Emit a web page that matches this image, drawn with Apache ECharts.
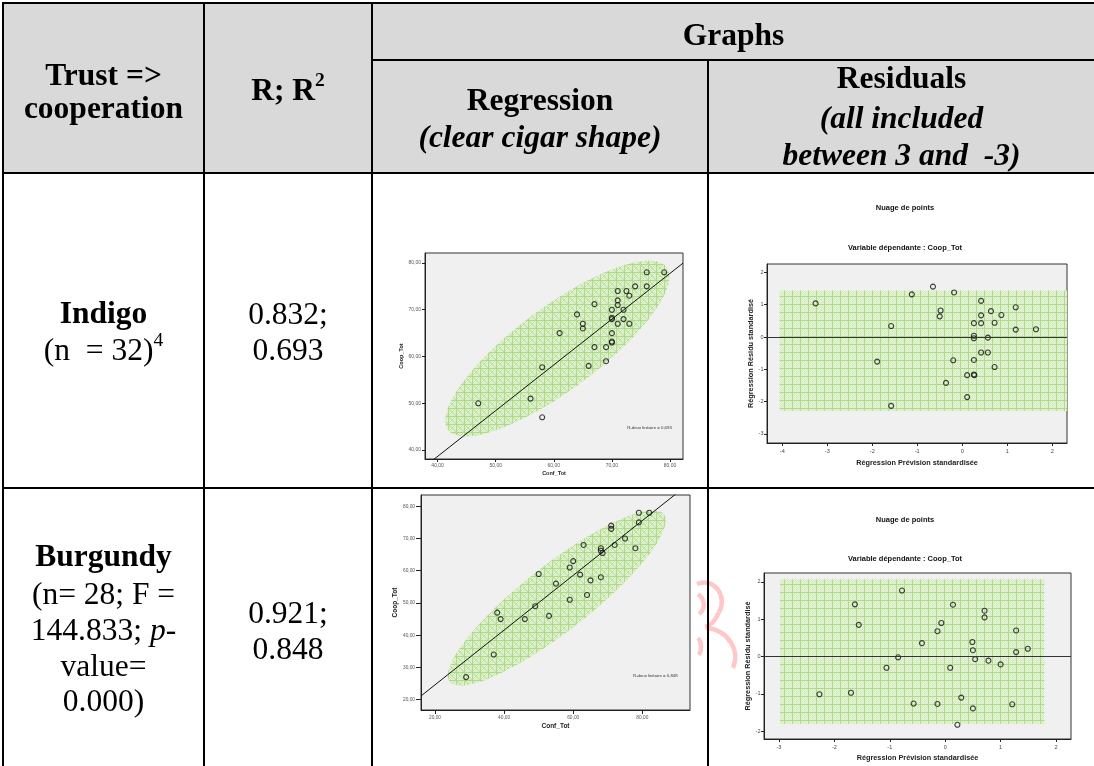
<!DOCTYPE html>
<html><head><meta charset="utf-8">
<script src="https://cdn.jsdelivr.net/npm/echarts@6/dist/echarts.min.js"></script>
<style>
html,body{margin:0;padding:0;background:#fff;width:1094px;height:766px;overflow:hidden;}
#chart{position:absolute;left:0;top:0;width:1094px;height:766px;z-index:0;}
#table{position:absolute;left:0;top:0;width:1094px;height:766px;z-index:1;pointer-events:none;font-family:"Liberation Serif","Times New Roman",serif;color:#000;}
.bg{position:absolute;background:#d9d9d9;}
.ln{position:absolute;background:#000;}
.t{position:absolute;text-align:center;font-size:31.5px;line-height:36px;height:36px;white-space:pre;}
.b{font-weight:bold;}
.i{font-style:italic;}
sup{font-size:62%;line-height:0;vertical-align:0.72em;}
</style></head>
<body>
<div id="chart"></div>
<div id="table">
  <div class="bg" style="left:4px;top:4px;width:1090px;height:168px;"></div>
  <div class="ln" style="left:2px;top:2px;width:1092px;height:2px;"></div>
  <div class="ln" style="left:2px;top:2px;width:2px;height:764px;"></div>
  <div class="ln" style="left:203px;top:2px;width:2px;height:764px;"></div>
  <div class="ln" style="left:371px;top:2px;width:2px;height:764px;"></div>
  <div class="ln" style="left:707px;top:60px;width:2px;height:706px;"></div>
  <div class="ln" style="left:372px;top:59px;width:722px;height:2px;"></div>
  <div class="ln" style="left:2px;top:172px;width:1092px;height:2px;"></div>
  <div class="ln" style="left:2px;top:487px;width:1092px;height:2px;"></div>
  <div class="t b" style="left:373px;width:721px;top:17px;">Graphs</div>
  <div class="t b" style="left:4px;width:199px;top:57px;">Trust =&gt;</div>
  <div class="t b" style="left:4px;width:199px;top:90px;">cooperation</div>
  <div class="t b" style="left:205px;width:166px;top:72px;">R; R<sup>2</sup></div>
  <div class="t b" style="left:373px;width:334px;top:82px;">Regression</div>
  <div class="t b i" style="left:373px;width:334px;top:119px;">(clear cigar shape)</div>
  <div class="t b" style="left:709px;width:385px;top:60px;">Residuals</div>
  <div class="t b i" style="left:709px;width:385px;top:100px;">(all included</div>
  <div class="t b i" style="left:709px;width:385px;top:137px;">between 3 and  -3)</div>
  <div class="t b" style="left:4px;width:199px;top:295px;">Indigo</div>
  <div class="t" style="left:4px;width:199px;top:332px;">(n  = 32)<sup>4</sup></div>
  <div class="t" style="left:205px;width:166px;top:296px;">0.832;</div>
  <div class="t" style="left:205px;width:166px;top:332px;">0.693</div>
  <div class="t b" style="left:4px;width:199px;top:538px;">Burgundy</div>
  <div class="t" style="left:4px;width:199px;top:576px;">(n= 28; F =</div>
  <div class="t" style="left:4px;width:199px;top:612px;">144.833; <span class="i">p</span>-</div>
  <div class="t" style="left:4px;width:199px;top:648px;">value=</div>
  <div class="t" style="left:4px;width:199px;top:683px;">0.000)</div>
  <div class="t" style="left:205px;width:166px;top:595px;">0.921;</div>
  <div class="t" style="left:205px;width:166px;top:631px;">0.848</div>
</div>
<script>
// ---------- DATA ----------
const indigoConf = [47,56,58,58,61,64,65,65,66,67,67,69,69,70,70,70,70,70,70,71,71,71,71,72,72,72.5,73,73,74,76,76,79];
const indigoCoop = [50,51,47,57.7,65,69,67,66,58,71.2,62,62,59,70,68.3,68,65,63,63.2,74,72,71,67,70,68,74,73,67,75,78,75,78];
const indigoPred = [-3.26,-1.12,-0.65,-0.18,0.42,-0.48,-0.50,-1.58,0.64,0.87,1.19,0.42,0.26,0.42,0.72,1.19,1.64,0.26,0.26,0.57,0.42,0.57,-1.89,-0.20,0.26,0.72,0.11,0.26,0.27,-0.36,0.11,-1.58];
const indigoResid = [1.04,1.32,1.56,1.38,1.12,0.82,0.64,0.34,0.80,0.68,0.92,0.67,0.43,0.43,0.44,0.23,0.24,0.04,-0.04,-0.02,-0.48,-0.48,-0.76,-0.72,-0.71,-0.93,-1.18,-1.16,-1.18,-1.42,-1.86,-2.13];
const burgConf = [29,37,38,39,46,49,50,53,55,59,59,60,62,63,64,65,68,68,68.5,68,71,71,72,75,78,79,79,82];
const burgCoop = [27,34,47,45,45,49,59,46,56,61,51,63,58.8,68,52.5,57,67,66.2,65.5,58,74,73,68,70,67,75,78,78];
const burgPred = [-2.27,-1.70,-1.63,-1.56,-1.06,-0.85,-0.78,-0.57,-0.42,-0.14,-0.14,-0.07,0.09,0.14,0.22,0.29,0.49,0.50,0.50,0.54,0.71,0.71,0.78,1.00,1.21,1.28,1.28,1.49];
const burgResid = [-1.01,-0.97,1.40,0.85,-0.30,-0.02,1.77,-1.26,0.36,-1.27,0.68,0.90,-0.30,1.39,-1.83,-1.10,0.39,0.17,-1.39,-0.07,1.23,1.05,-0.11,-0.21,-1.28,0.70,0.12,0.21];
// fitted regression lines: [intercept, slope]
const indigoFit = [-0.47, 0.978];
const burgFit = [7.61, 0.8495];
// ellipse: centre x, centre y, major half-axis (dx, dy), minor half-axis (dx, dy), data units
const indigoEllipse = [60.6, 61.7, 18.8, 17.4, -4.3, 7.1];
const burgEllipse = [55.25, 51.55, 30.95, 25.95, -5.9, 8.1];
// residual bands: x0, y0, x1, y1
const indigoBand = [-4.06, 1.44, 2.33, -2.29];
const burgBand = [-2.98, 2.07, 1.79, -1.81];
// tick values
const indigoRegXTicks = [40,50,60,70,80];
const indigoRegYTicks = [40,50,60,70,80];
const burgRegXTicks = [20,40,60,80];
const burgRegYTicks = [20,30,40,50,60,70,80];
const indigoResXTicks = [-4,-3,-2,-1,0,1,2];
const indigoResYTicks = [-3,-2,-1,0,1,2];
const burgResXTicks = [-3,-2,-1,0,1,2];
const burgResYTicks = [-2,-1,0,1,2];
const rTexts = ['R-deux linéaire = 0,693', 'R-deux linéaire = 0,848'];

// ---------- STYLE HELPERS ----------
function makeTile(diag){
  const c = document.createElement('canvas'); c.width = 8; c.height = 8;
  const g = c.getContext('2d');
  g.fillStyle = '#d3ebbf'; g.fillRect(0,0,8,8);
  g.fillStyle = '#e6f4da';
  for (let i=0;i<8;i++) for (let j=0;j<8;j++) if ((i+j)%2===0) g.fillRect(i,j,1,1);
  if (diag){
    g.fillStyle = '#bfe2a2';
    for (let i=0;i<8;i++){ g.fillRect(i,i,1,1); g.fillRect(7-i,i,1,1); }
  }
  g.fillStyle = '#addb88'; g.fillRect(0,0,8,1); g.fillRect(0,0,1,8);
  return c;
}
const patternGrid = {image: makeTile(false), repeat: 'repeat'};
const patternHatch = {image: makeTile(true), repeat: 'repeat'};
const SANS = '"Liberation Sans", Arial, sans-serif';
const fmtComma = v => v.toFixed(2).replace('.', ',');
const zip = (a,b) => a.map((v,i)=>[v,b[i]]);

function ellipseRender(params, api){
  const cx = api.value(0), cy = api.value(1), ax = api.value(2), ay = api.value(3), bx = api.value(4), by = api.value(5);
  const pts = [];
  for (let k=0;k<120;k++){
    const t = 2*Math.PI*k/120;
    pts.push(api.coord([cx + ax*Math.cos(t) + bx*Math.sin(t), cy + ay*Math.cos(t) + by*Math.sin(t)]));
  }
  return {type:'polygon', shape:{points:pts}, style:{fill:patternHatch, stroke:null}};
}
function bandRender(params, api){
  const p0 = api.coord([api.value(0), api.value(1)]);
  const p1 = api.coord([api.value(2), api.value(3)]);
  return {type:'rect', shape:{x:Math.min(p0[0],p1[0]), y:Math.min(p0[1],p1[1]), width:Math.abs(p1[0]-p0[0]), height:Math.abs(p1[1]-p0[1])}, style:{fill:patternGrid, stroke:null}};
}

function mkAxis(o){
  return {
    type:'value', gridIndex:o.g, min:o.min, max:o.max, position:o.pos,
    splitLine:{show:false},
    axisLine:{show:true, onZero:false, lineStyle:{color:'#222', width:1}},
    axisTick:{show:true, customValues:o.ticks, length:o.tl||3, lineStyle:{color:'#222'}},
    axisLabel:{customValues:o.ticks, formatter:o.fmt, fontSize:o.fs, color:o.lc||'#444', margin:o.m, fontFamily:SANS},
    name:o.name, nameLocation:'middle', nameGap:o.ng,
    nameTextStyle:{fontSize:o.nfs, fontWeight:'bold', color:'#222', fontFamily:SANS}
  };
}

const grids = [
  {left:425, top:253, width:258, height:206},
  {left:767, top:264, width:300, height:179},
  {left:421, top:495, width:269, height:215},
  {left:764, top:573, width:307, height:166}
].map(g => Object.assign(g, {show:true, backgroundColor:'#f0f0f0', borderColor:'#333', borderWidth:1, containLabel:false, outerBoundsMode:'none'}));

const xAxes = [
  mkAxis({g:0, min:37.83, max:82.24, pos:'bottom', ticks:indigoRegXTicks, fmt:fmtComma, fs:5, lc:'#555', m:4, name:'Conf_Tot', ng:11, nfs:5.5}),
  mkAxis({g:1, min:-4.34, max:2.33, pos:'bottom', ticks:indigoResXTicks, fmt:v=>String(v), fs:5.5, m:5, name:'Régression Prévision standardisée', ng:16, nfs:7.3}),
  mkAxis({g:2, min:15.95, max:93.8, pos:'bottom', ticks:burgRegXTicks, fmt:fmtComma, fs:4.8, lc:'#555', m:5, tl:4, name:'Conf_Tot', ng:13, nfs:6.5}),
  mkAxis({g:3, min:-3.27, max:2.27, pos:'bottom', ticks:burgResXTicks, fmt:v=>String(v), fs:5.5, m:5, name:'Régression Prévision standardisée', ng:15, nfs:7.3})
];
const yAxes = [
  mkAxis({g:0, min:38.09, max:82.13, pos:'left', ticks:indigoRegYTicks, fmt:fmtComma, fs:5, lc:'#555', m:4, name:'Coop_Tot', ng:19, nfs:5.5}),
  mkAxis({g:1, min:-3.28, max:2.26, pos:'left', ticks:indigoResYTicks, fmt:v=>String(v), fs:5.5, m:3.5, name:'Régression Résidu standardisé', ng:12, nfs:7.3}),
  mkAxis({g:2, min:16.8, max:83.5, pos:'left', ticks:burgRegYTicks, fmt:fmtComma, fs:4.8, lc:'#555', m:6, tl:5, name:'Coop_Tot', ng:17, nfs:6.5}),
  mkAxis({g:3, min:-2.21, max:2.24, pos:'left', ticks:burgResYTicks, fmt:v=>String(v), fs:5.5, m:3.5, name:'Régression Résidu standardisé', ng:12, nfs:7.3})
];

const circleStyle = {color:'rgba(0,0,0,0)', borderColor:'#111', borderWidth:1.1};
function fitLine(fit, ax){ return [[ax.min, fit[0]+fit[1]*ax.min],[ax.max, fit[0]+fit[1]*ax.max]]; }
function zeroLine(){ return {silent:true, symbol:['none','none'], label:{show:false}, lineStyle:{color:'#333', width:1, type:'solid'}, data:[{yAxis:0}], animation:false}; }

const series = [
  {type:'custom', xAxisIndex:0, yAxisIndex:0, renderItem:ellipseRender, data:[indigoEllipse], z:1, silent:true, clip:true},
  {type:'line', xAxisIndex:0, yAxisIndex:0, data:fitLine(indigoFit, xAxes[0]), symbol:'none', lineStyle:{color:'#111', width:1}, z:3, silent:true, clip:true},
  {type:'scatter', xAxisIndex:0, yAxisIndex:0, data:zip(indigoConf, indigoCoop), symbol:'circle', symbolSize:5, itemStyle:circleStyle, z:4},
  {type:'custom', xAxisIndex:1, yAxisIndex:1, renderItem:bandRender, data:[indigoBand], z:1, silent:true, clip:true},
  {type:'scatter', xAxisIndex:1, yAxisIndex:1, data:zip(indigoPred, indigoResid), symbol:'circle', symbolSize:5, itemStyle:circleStyle, z:4, markLine:zeroLine()},
  {type:'custom', xAxisIndex:2, yAxisIndex:2, renderItem:ellipseRender, data:[burgEllipse], z:1, silent:true, clip:true},
  {type:'line', xAxisIndex:2, yAxisIndex:2, data:fitLine(burgFit, xAxes[2]), symbol:'none', lineStyle:{color:'#111', width:1}, z:3, silent:true, clip:true},
  {type:'scatter', xAxisIndex:2, yAxisIndex:2, data:zip(burgConf, burgCoop), symbol:'circle', symbolSize:5, itemStyle:circleStyle, z:4},
  {type:'custom', xAxisIndex:3, yAxisIndex:3, renderItem:bandRender, data:[burgBand], z:1, silent:true, clip:true},
  {type:'scatter', xAxisIndex:3, yAxisIndex:3, data:zip(burgPred, burgResid), symbol:'circle', symbolSize:5, itemStyle:circleStyle, z:4, markLine:zeroLine()}
];

function txt(x, y, s, size, weight, color){
  return {type:'text', x:x, y:y, silent:true, z:10, style:{text:s, font:(weight||'normal')+' '+size+'px '+SANS, fill:color||'#111', align:'center', verticalAlign:'middle', textAlign:'center', textVerticalAlign:'middle'}};
}
const pink = {fill:null, stroke:'#ffc8c8', lineWidth:4.5};
const graphic = [
  txt(905, 208, 'Nuage de points', 7.5, 'bold'),
  txt(905, 248, 'Variable dépendante : Coop_Tot', 7.5, 'bold'),
  txt(905, 520, 'Nuage de points', 7.5, 'bold'),
  txt(905, 559, 'Variable dépendante : Coop_Tot', 7.5, 'bold'),
  txt(649.5, 427.5, rTexts[0], 4.3, 'normal', '#333'),
  txt(655.3, 675.7, rTexts[1], 4.3, 'normal', '#333'),
  {type:'bezierCurve', silent:true, z:0, shape:{x1:697,y1:584,cpx1:714,cpy1:577,cpx2:728,cpy2:596,x2:719,y2:612}, style:pink},
  {type:'bezierCurve', silent:true, z:0, shape:{x1:719,y1:612,cpx1:715,cpy1:622,cpx2:709,cpy2:626,x2:705,y2:627}, style:pink},
  {type:'bezierCurve', silent:true, z:0, shape:{x1:706,y1:628,cpx1:730,cpy1:630,cpx2:740,cpy2:652,x2:733,y2:668}, style:pink},
  {type:'bezierCurve', silent:true, z:0, shape:{x1:698,y1:594,cpx1:705,cpy1:599,cpx2:706,cpy2:609,x2:699,y2:614}, style:pink},
  {type:'bezierCurve', silent:true, z:0, shape:{x1:698,y1:638,cpx1:702,cpy1:642,cpx2:702,cpy2:650,x2:699,y2:655}, style:pink}
];

const chart = echarts.init(document.getElementById('chart'), null, {renderer:'canvas'});
chart.setOption({
  animation:false,
  backgroundColor:'transparent',
  grid:grids, xAxis:xAxes, yAxis:yAxes, series:series, graphic:graphic
});
</script>
</body></html>
